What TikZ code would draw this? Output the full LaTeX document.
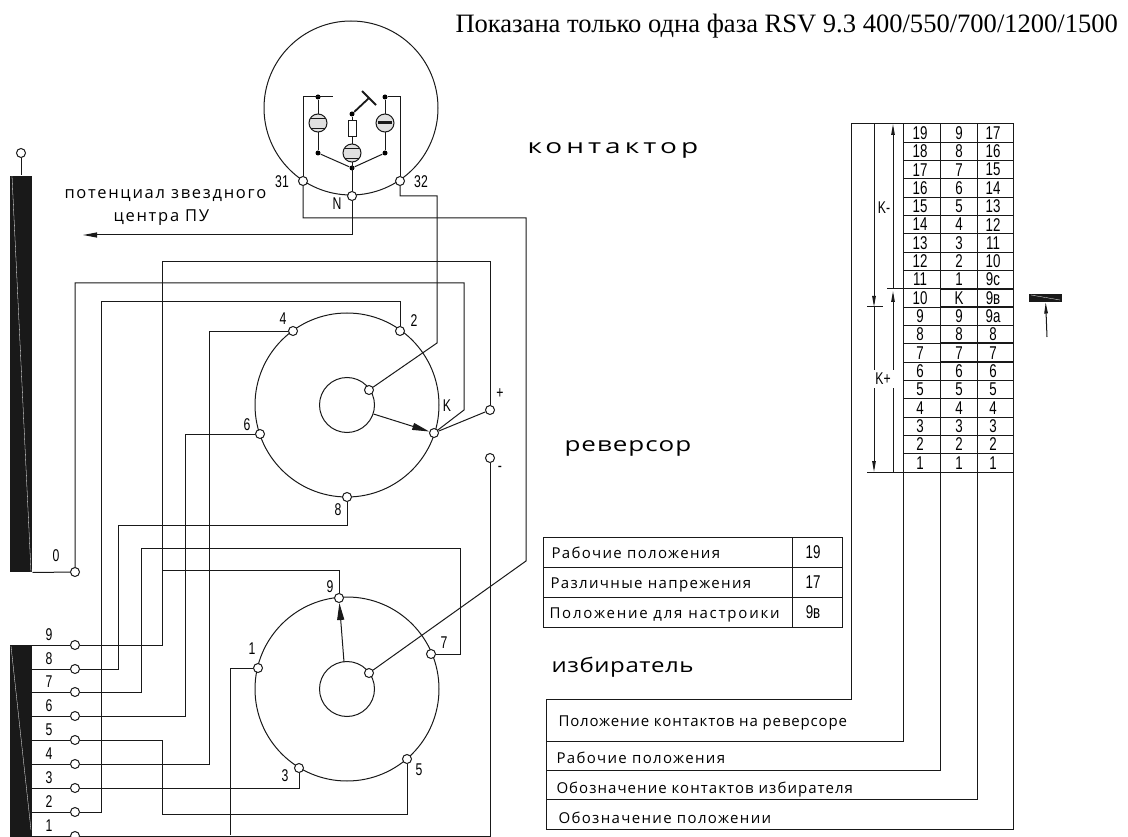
\documentclass[tikz,border=0pt]{standalone}
\usepackage{fontspec}
\setmainfont{Liberation Serif}
\newfontfamily\cadfont[LetterSpace=9]{Open Sans}
\newfontfamily\cadnum[FakeStretch=0.72]{Liberation Sans}
\usetikzlibrary{arrows.meta}
\tikzset{
    contact/.style={circle, draw, fill=white, inner sep=0pt, minimum size=9pt},
    dotnode/.style={circle, fill=black, inner sep=0pt, minimum size=5pt},
    tube/.style={circle, draw, fill=black!12, inner sep=0pt, minimum size=18pt},
    ring/.style={circle, draw, inner sep=0pt, minimum size=184pt},
    hub/.style={circle, draw, inner sep=0pt, minimum size=55pt},
    num/.style={font=\fontsize{17}{17}\cadnum, inner sep=0pt},
    cell/.style={font=\fontsize{18.5}{18.5}\cadnum, inner sep=0pt},
    cad/.style={font=\fontsize{15}{15}\cadfont, inner sep=0pt, anchor=base west},
    star/.style={font=\fontsize{16.5}{16.5}\cadfont\addfontfeature{LetterSpace=10.5}, inner sep=0pt, anchor=base west},
    wide/.style={font=\fontsize{20}{20}\cadfont, inner sep=0pt, anchor=base west},
    slab/.style={rectangle, fill=black!90, inner sep=0pt, minimum width=22pt},
    small head/.style={>={Stealth[length=11pt, width=3.5pt, inset=0pt]}}
}
\begin{document}
\begin{tikzpicture}[x=1pt, y=-1pt, >={Stealth[length=17pt, width=7pt, inset=0pt]}, line width=1pt, draw=black!90]
    \useasboundingbox (0,0) rectangle (1128,837);

    \node (title) [anchor=base west, inner sep=0pt, font=\fontsize{26.55}{26.55}\selectfont] at (455,33) {Показана только одна фаза RSV 9.3 400/550/700/1200/1500};

    % Contactor
    \node (conRing) [circle, draw, inner sep=0pt, minimum size=174pt] at (351,108) {};
    \node (con31) [contact] at (303,181) {};
    \node (conN) [contact] at (352,196) {};
    \node (con32) [contact] at (400,181) {};
    \node (dotA) [dotnode] at (318,97) {};
    \node (dotB) [dotnode] at (318,153) {};
    \node (dotC) [dotnode] at (385,97) {};
    \node (dotD) [dotnode] at (385,153) {};
    \node (dotE) [dotnode] at (352,114) {};
    \node (dotF) [dotnode] at (352,168) {};
    \coordinate (barA) at (333,97);
    \coordinate (barB) at (369,98);
    \draw (con31) |- (barA);
    \draw (con32) |- (dotC);
    \draw (dotA) -- (dotB);
    \draw (dotC) -- (dotD);
    \draw (dotB) -- (dotF) -- (dotD);
    \draw (dotE) -- (conN);
    \node (tubeA) [tube] at (318,123) {};
    \node (tubeB) [tube] at (385,123) {};
    \node (tubeC) [tube] at (352,153) {};
    \node (res) [rectangle, draw, fill=white, inner sep=0pt, minimum width=8pt, minimum height=16pt] at (352,129) {};
    \draw[line width=1.8pt] (dotE) -- (barB);
    \draw[line width=1.8pt] (362,91) -- (376,105);
    \draw[line width=1.8pt] (311,118.5) -- (325,118.5);
    \draw[line width=1.8pt] (311,128.5) -- (325,128.5);
    \draw[line width=1.8pt] (345,148.5) -- (359,148.5);
    \draw[line width=1.8pt] (345,158.5) -- (359,158.5);
    \draw[line width=3pt] (378,123) -- (392,123);
    \node (lab31) [num] at (282,182) {31};
    \node (labN) [num] at (337,204) {N};
    \node (lab32) [num] at (421,182) {32};

    % Reversing switch
    \node (revRing) [ring] at (347,405) {};
    \node (revHub) [hub] at (347,405) {};
    \node (rev2) [contact] at (400,331) {};
    \node (rev4) [contact] at (293,331) {};
    \node (rev6) [contact] at (260,434) {};
    \node (rev8) [contact] at (347,497) {};
    \node (revK) [contact] at (434,433) {};
    \node (revIn) [contact] at (369,390) {};
    \node (plus) [contact] at (490,410) {};
    \node (minus) [contact] at (490,458) {};
    \coordinate (revArrow) at (373.5,414);
    \draw[->] (revArrow) -- (revK);
    \node (lab2) [num] at (414,321) {2};
    \node (lab4) [num] at (283,319) {4};
    \node (lab6) [num] at (247,425) {6};
    \node (lab8) [num] at (338,510) {8};
    \node (labK) [num] at (447,406) {K};
    \node (labP) [num] at (500,394) {+};
    \node (labM) [num] at (500,469) {-};

    % Selector
    \node (selRing) [ring] at (347,689) {};
    \node (selHub) [hub] at (347,689) {};
    \node (sel1) [contact] at (258,668) {};
    \node (sel3) [contact] at (299,768) {};
    \node (sel5) [contact] at (407,759) {};
    \node (sel7) [contact] at (431,654) {};
    \node (sel9) [contact] at (339,598) {};
    \node (selIn) [contact] at (369,673) {};
    \coordinate (selArrow) at (344,662);
    \draw[->] (selArrow) -- (sel9);
    \node (slab1) [num] at (252,649) {1};
    \node (slab3) [num] at (285,776) {3};
    \node (slab5) [num] at (419,770) {5};
    \node (slab7) [num] at (444,643) {7};
    \node (slab9) [num] at (330,587) {9};

    % Tap winding
    \node (coilUp) [slab, minimum height=396pt] at (21,374) {};
    \node (coilLow) [slab, minimum height=192pt] at (21,741) {};
    \draw[white, line width=0.3pt] (12,176) -- (31,572);
    \draw[white, line width=0.3pt] (11,646) -- (31,830);
    \node (coilEnd) [contact] at (21,153) {};
    \draw (coilEnd) -- (coilUp);
    \node (tap0) [contact] at (75,572) {};
    \draw (coilUp.south east) -- (tap0);
    \node at (56,556) [num] {0};
    \foreach \n/\y in {9/645, 8/669, 7/692, 6/716, 5/740, 4/764, 3/788, 2/812, 1/836} {
        \node (tap\n) [contact] at (75,\y) {};
        \draw (tap\n.west) -- (32,\y);
        \node (lab\n a) [num] at (49,\y-10) {\n};
    }

    % Wiring
    \draw (con31) |- (526,218) -- (526,561) -- (selIn);
    \draw[->, >={Stealth[length=14pt, width=5pt, inset=0pt]}] (conN) |- (83,235);
    \draw (con32) |- (437,196) -- (437,343) -- (revIn);
    \draw (revK) -- (464,410) -- (464,283) -| (tap0);
    \draw (revK) -- (plus);
    \draw (plus) -- (490,262) -| (162,645) -- (tap9);
    \draw (sel9) |- (162,570);
    \draw (rev8) |- (118,525) |- (tap8);
    \draw (tap7) -| (141,548) -| (460,654) -- (sel7);
    \draw (tap6) -| (185,434) -- (rev6);
    \draw (tap5) -| (162,814) -| (sel5);
    \draw (tap4) -| (209,331) -- (rev4);
    \draw (tap3) -| (sel3);
    \draw (tap2) -| (101,302) -| (rev2);
    \draw (tap1) -| (minus);
    \draw (sel1) -| (230,835);

    % Labels
    \node (nameCon) [wide] at (527,154) {\addfontfeature{FakeStretch=1.4, LetterSpace=20}контактор};
    \node (nameRev) [wide] at (564,451) {\addfontfeature{FakeStretch=1.3, LetterSpace=5}реверсор};
    \node (nameSel) [wide] at (551,672) {\addfontfeature{FakeStretch=1.2, LetterSpace=3}избиратель};
    \node (starA) [star] at (64,199) {потенциал звездного};
    \node (starB) [star] at (113,222) {центра ПУ};

    % Small table
    \draw (543,537) rectangle (842,627);
    \draw (543,567) -- (842,567);
    \draw (543,597) -- (842,597);
    \draw (792,537) -- (792,627);
    \node (txtA) [cad] at (551,558) {Рабочие положения};
    \node (txtB) [cad] at (550,588) {Различные напрежения};
    \node (txtC) [cad] at (549,618) {\addfontfeature{LetterSpace=12}Положение для настроики};
    \node (valA) [cell] at (813,552) {19};
    \node (valB) [cell] at (813,582) {17};
    \node (valC) [cell] at (813,612) {9в};

    % Position table
    \foreach \a/\b/\c [count=\i from 0] in {19/9/17, 18/8/16, 17/7/15, 16/6/14, 15/5/13, 14/4/12, 13/3/11, 12/2/10, 11/1/9с, 10/K/9в, 9/9/9а, 8/8/8, 7/7/7, 6/6/6, 5/5/5, 4/4/4, 3/3/3, 2/2/2, 1/1/1} {
        \draw (903,124+18.32*\i+18.32) -- (1013,124+18.32*\i+18.32);
        \node (cola\i) [cell] at (920,133+18.32*\i) {\a};
        \node (colb\i) [cell] at (959,133+18.32*\i) {\b};
        \node (colc\i) [cell] at (993,133+18.32*\i) {\c};
    }
    \draw (546,699) -| (851,124) -- (1013,124) -- (1013,829) -- (546,829) -- cycle;
    \draw (546,741) -- (903,741) -- (903,124);
    \draw (546,770) -- (940,770) -- (940,124);
    \draw (546,799) -- (977,799) -- (977,124);
    \draw[line width=1.5pt] (940,307) -- (1013,307);
    \draw[line width=1.5pt] (940,289) -- (1013,289);
    \draw[line width=1.5pt] (940,343) -- (1013,343);
    \draw[line width=1.5pt] (940,362) -- (1013,362);
    \node (txtD) [cad] at (558,726) {\addfontfeature{LetterSpace=5.7}Положение контактов на реверсоре};
    \node (txtE) [cad] at (556,763) {Рабочие положения};
    \node (txtF) [cad] at (556,793) {\addfontfeature{LetterSpace=7}Обозначение контактов избирателя};
    \node (txtG) [cad] at (558,823) {Обозначение положении};

    % Dimensions
    \draw (887,289) -- (903,289);
    \draw (867,307) -- (883,307);
    \draw (867,472) -- (903,472);
    \draw[small head, ->] (874,124) -- (874,307);
    \draw[small head, ->] (874,307) -- (874,472);
    \draw[small head, ->] (893,289) -- (893,124);
    \draw[small head, ->] (893,472) -- (893,291);
    \node (labKm) [num, fill=white, inner sep=3pt] at (884,208) {K-};
    \node (labKp) [num, fill=white, inner sep=3pt] at (883,379) {K+};

    % Marker
    \node (mark) [rectangle, fill=black!90, inner sep=0pt, minimum width=33pt, minimum height=8pt] at (1045.5,298) {};
    \draw[white, line width=0.3pt] (1031,295) -- (1060,300);
    \coordinate (markEnd) at (1047,337);
    \draw[small head, ->] (markEnd) -- (mark);
\end{tikzpicture}
\end{document}
